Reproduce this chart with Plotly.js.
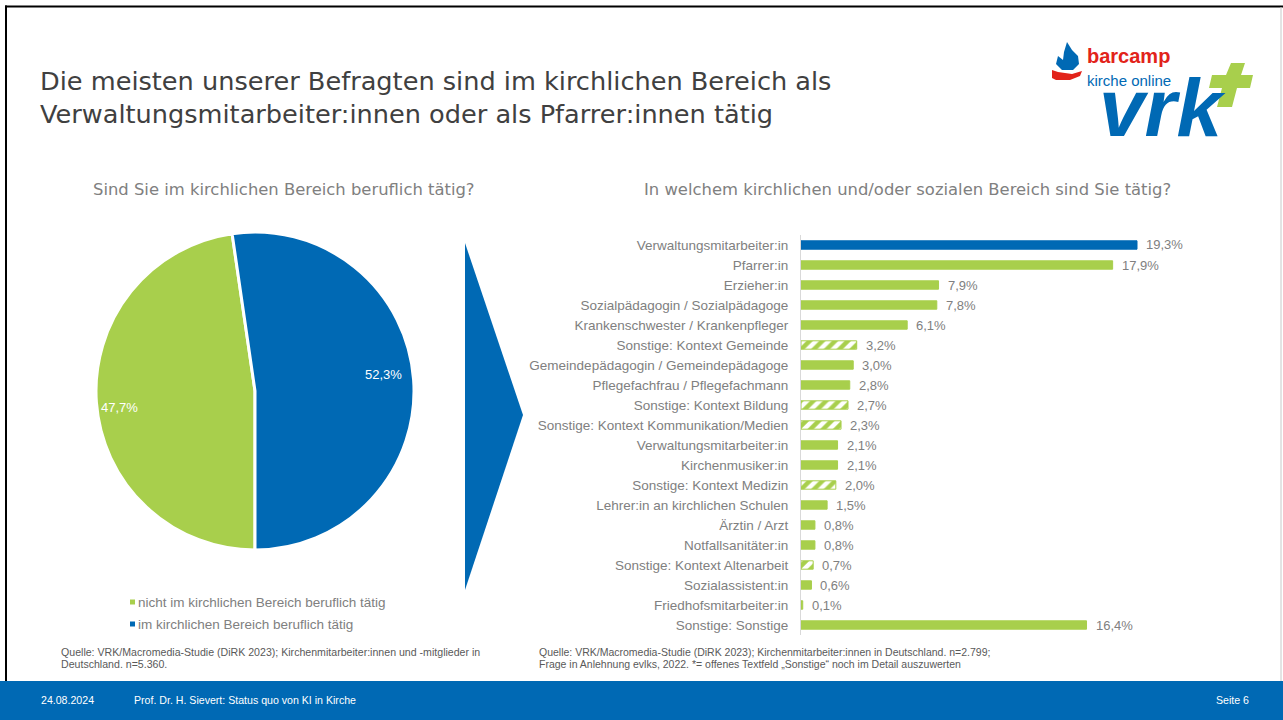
<!DOCTYPE html>
<html>
<head>
<meta charset="utf-8">
<script src="https://cdn.plot.ly/plotly-3.0.1.min.js"></script>
<style>html,body{margin:0;padding:0;background:#fff;}#chart{width:1283px;height:720px;}</style>
</head>
<body>
<div id="chart"></div>
<script>
// ---------- DATA ----------
var pieLabels = ["nicht im kirchlichen Bereich beruflich tätig", "im kirchlichen Bereich beruflich tätig"];
var pieValues = [47.7, 52.3];

var barCategories = [
  "Verwaltungsmitarbeiter:in",
  "Pfarrer:in",
  "Erzieher:in",
  "Sozialpädagogin / Sozialpädagoge",
  "Krankenschwester / Krankenpfleger",
  "Sonstige: Kontext Gemeinde",
  "Gemeindepädagogin / Gemeindepädagoge",
  "Pflegefachfrau / Pflegefachmann",
  "Sonstige: Kontext Bildung",
  "Sonstige: Kontext Kommunikation/Medien",
  "Verwaltungsmitarbeiter:in",
  "Kirchenmusiker:in",
  "Sonstige: Kontext Medizin",
  "Lehrer:in an kirchlichen Schulen",
  "Ärztin / Arzt",
  "Notfallsanitäter:in",
  "Sonstige: Kontext Altenarbeit",
  "Sozialassistent:in",
  "Friedhofsmitarbeiter:in",
  "Sonstige: Sonstige"
];
var barValues = [19.3, 17.9, 7.9, 7.8, 6.1, 3.2, 3.0, 2.8, 2.7, 2.3, 2.1, 2.1, 2.0, 1.5, 0.8, 0.8, 0.7, 0.6, 0.1, 16.4];
var barIsOpenText = [false, false, false, false, false, true, false, false, true, true, false, false, true, false, false, false, true, false, false, false];

var titleLines = ["Die meisten unserer Befragten sind im kirchlichen Bereich als", "Verwaltungsmitarbeiter:innen oder als Pfarrer:innen tätig"];
var pieTitle = "Sind Sie im kirchlichen Bereich beruflich tätig?";
var barTitle = "In welchem kirchlichen und/oder sozialen Bereich sind Sie tätig?";
var sourceLeft = ["Quelle: VRK/Macromedia-Studie (DiRK 2023); Kirchenmitarbeiter:innen und -mitglieder in", "Deutschland. n=5.360."];
var sourceRight = ["Quelle: VRK/Macromedia-Studie (DiRK 2023); Kirchenmitarbeiter:innen in Deutschland. n=2.799;", "Frage in Anlehnung evlks, 2022. *= offenes Textfeld „Sonstige“ noch im Detail auszuwerten"];
var footerDate = "24.08.2024";
var footerAuthor = "Prof. Dr. H. Sievert: Status quo von KI in Kirche";
var footerPage = "Seite 6";
var logoLines = ["barcamp", "kirche online", "vrk"];

// ---------- STYLE ----------
var W = 1283, H = 720;
var BLUE = "#0069b4", GREEN = "#a8cf4c", RED = "#e2231a";
var FONT = "Liberation Sans, Arial, sans-serif";
var WIDE = "DejaVu Sans, Verdana, sans-serif";
function P(x) { return x / W; }
function Q(y) { return 1 - y / H; }
function fmt(v) { return v.toFixed(1).replace(".", ",") + "%"; }

// ---------- TRACES ----------
var pieTrace = {
  type: "pie",
  labels: pieLabels,
  values: pieValues,
  sort: false,
  direction: "clockwise",
  rotation: 180,
  textinfo: "none",
  hoverinfo: "label+percent",
  marker: { colors: [GREEN, BLUE], line: { color: "#ffffff", width: 3 } },
  domain: { x: [P(96), P(414)], y: [Q(550), Q(232)] },
  showlegend: false
};

var yIdx = barCategories.map(function (_, i) { return i; });
var barColors = barValues.map(function (_, i) { return i === 0 ? BLUE : GREEN; });
var barShapes = barIsOpenText.map(function (b) { return b ? "/" : ""; });

var barTrace = {
  type: "bar",
  orientation: "h",
  x: barValues,
  y: yIdx,
  width: 0.42,
  marker: {
    color: barColors,
    line: { color: barColors, width: 1 },
    pattern: { shape: barShapes, fgcolor: "#ffffff", size: 9, solidity: 0.5, fillmode: "replace" }
  },
  xaxis: "x",
  yaxis: "y",
  hoverinfo: "x+text",
  text: barCategories,
  textposition: "none",
  showlegend: false
};

// ---------- ANNOTATIONS ----------
var ann = [];
function txt(x, y, s, size, color, xanchor, family, extra) {
  var a = { xref: "paper", yref: "paper", x: P(x), y: Q(y), text: s, showarrow: false,
    xanchor: xanchor || "left", yanchor: "middle", align: xanchor === "right" ? "right" : "left",
    borderpad: 0,
    font: { family: family || FONT, size: size, color: color } };
  if (extra) for (var k in extra) a[k] = extra[k];
  ann.push(a);
}

// title
txt(39, 98, titleLines.join("<br>"), 25.6, "#404040", "left", WIDE);
// section titles
txt(284, 190, pieTitle, 16.4, "#808080", "center", WIDE);
txt(907, 190, barTitle, 16.4, "#808080", "center", WIDE);

// pie labels placed near the outer edge of each slice (computed from values)
(function () {
  var cx = 255, cy = 391, R = 159, total = pieValues.reduce(function (a, b) { return a + b; }, 0);
  var start = 180;
  pieValues.forEach(function (v, i) {
    var span = v / total * 360;
    var mid = (start + span / 2) * Math.PI / 180;
    var r = 0.8 * R;
    var x = cx + r * Math.sin(mid), y = cy - r * Math.cos(mid);
    txt(x + (i === 0 ? -9 : 2), y + (i === 0 ? 7 : -7), fmt(v), 13, "#ffffff", "center");
    start += span;
  });
})();

// pie legend
var legendShapes = [];
pieLabels.forEach(function (lab, i) {
  var y = 602 + i * 22;
  legendShapes.push({ type: "rect", xref: "paper", yref: "paper", x0: P(130), x1: P(135), y0: Q(y + 2.5), y1: Q(y - 2.5),
    fillcolor: [GREEN, BLUE][i], line: { width: 0 } });
  txt(137, y, lab, 13.5, "#808080", "left");
});

// bar value labels
barValues.forEach(function (v, i) {
  ann.push({ xref: "x", yref: "y", x: v, y: i, text: fmt(v), showarrow: false, xanchor: "left", yanchor: "middle",
    xshift: 7, font: { family: FONT, size: 13, color: "#808080" } });
});

// sources
txt(60, 652, sourceLeft[0], 10.6, "#595959", "left");
txt(60, 664, sourceLeft[1], 10.6, "#595959", "left");
txt(538, 652, sourceRight[0], 10.5, "#595959", "left");
txt(538, 664, sourceRight[1], 10.5, "#595959", "left");

// footer
txt(40, 700, footerDate, 10.6, "#ffffff", "left");
txt(133, 700, footerAuthor, 10.6, "#ffffff", "left");
txt(1250, 700, footerPage, 10.6, "#ffffff", "right");

// logo text (one block so the stacked lines share a single text box)
txt(1086, 67,
  '<b><span style="color:' + RED + ';font-size:20px">' + logoLines[0] + '</span></b><br>' +
  '<span style="color:' + BLUE + ';font-size:15px">' + logoLines[1] + '</span>',
  18, BLUE, "left");
txt(1098, 107, "<b><i>" + logoLines[2] + "</i></b>", 82, BLUE, "left");

// ---------- SHAPES ----------
function path(pts) {
  return "M" + pts.map(function (p) { return P(p[0]) + "," + Q(p[1]); }).join(" L") + " Z";
}
var shapes = [
  // slide frame
  { type: "line", xref: "paper", yref: "paper", x0: P(5), x1: 1, y0: Q(6.5), y1: Q(6.5), line: { color: "#000000", width: 2 } },
  { type: "line", xref: "paper", yref: "paper", x0: P(6), x1: P(6), y0: Q(5.5), y1: Q(681), line: { color: "#000000", width: 2 } },
  { type: "line", xref: "paper", yref: "paper", x0: P(1281), x1: P(1281), y0: Q(7), y1: Q(681), line: { color: "#c8c8c8", width: 1 } },
  // footer band
  { type: "rect", xref: "paper", yref: "paper", x0: 0, x1: 1, y0: 0, y1: Q(681), fillcolor: BLUE, line: { width: 0 } },
  // arrow
  { type: "path", xref: "paper", yref: "paper", path: path([[465, 243], [523, 415], [465, 590]]), fillcolor: BLUE, line: { width: 0 } },
  // logo: green cross (slanted)
  { type: "path", xref: "paper", yref: "paper",
    path: path([[1231, 63], [1245, 63], [1241, 75], [1253, 75], [1250, 88], [1237, 88], [1232, 107], [1217, 107], [1222, 88], [1209, 88], [1212, 75], [1226, 75]]),
    fillcolor: GREEN, line: { width: 0 } },
  // logo: hand
  { type: "path", xref: "paper", yref: "paper",
    path: path([[1052, 70], [1058, 72], [1072, 74], [1082, 71], [1080, 76], [1070, 80], [1056, 80], [1052, 78]]),
    fillcolor: RED, line: { width: 0 } },
  // logo: flame
  { type: "path", xref: "paper", yref: "paper",
    path: path([[1067, 42], [1072, 50], [1078, 56], [1079, 64], [1073, 70], [1062, 70], [1056, 64], [1058, 56], [1063, 60], [1064, 52]]),
    fillcolor: BLUE, line: { width: 0 } }
].concat(legendShapes);

// ---------- LAYOUT ----------
var layout = {
  width: W, height: H,
  margin: { l: 0, r: 0, t: 0, b: 0 },
  paper_bgcolor: "#ffffff",
  plot_bgcolor: "rgba(0,0,0,0)",
  showlegend: false,
  separators: ",.",
  font: { family: FONT, color: "#808080" },
  xaxis: { domain: [P(801), P(1200)], range: [0, (1200 - 801) / 17.41], visible: false, fixedrange: true },
  yaxis: {
    domain: [Q(635), Q(235)], range: [19.5, -0.5],
    tickvals: yIdx, ticktext: barCategories,
    showgrid: false, zeroline: false,
    showline: true, linecolor: "#d9d9d9", linewidth: 1,
    ticks: "", ticklabelstandoff: 9,
    tickfont: { family: FONT, size: 13.5, color: "#808080" },
    fixedrange: true
  },
  annotations: ann,
  shapes: shapes
};

Plotly.newPlot("chart", [pieTrace, barTrace], layout, { displayModeBar: false, staticPlot: true });
</script>
</body>
</html>
